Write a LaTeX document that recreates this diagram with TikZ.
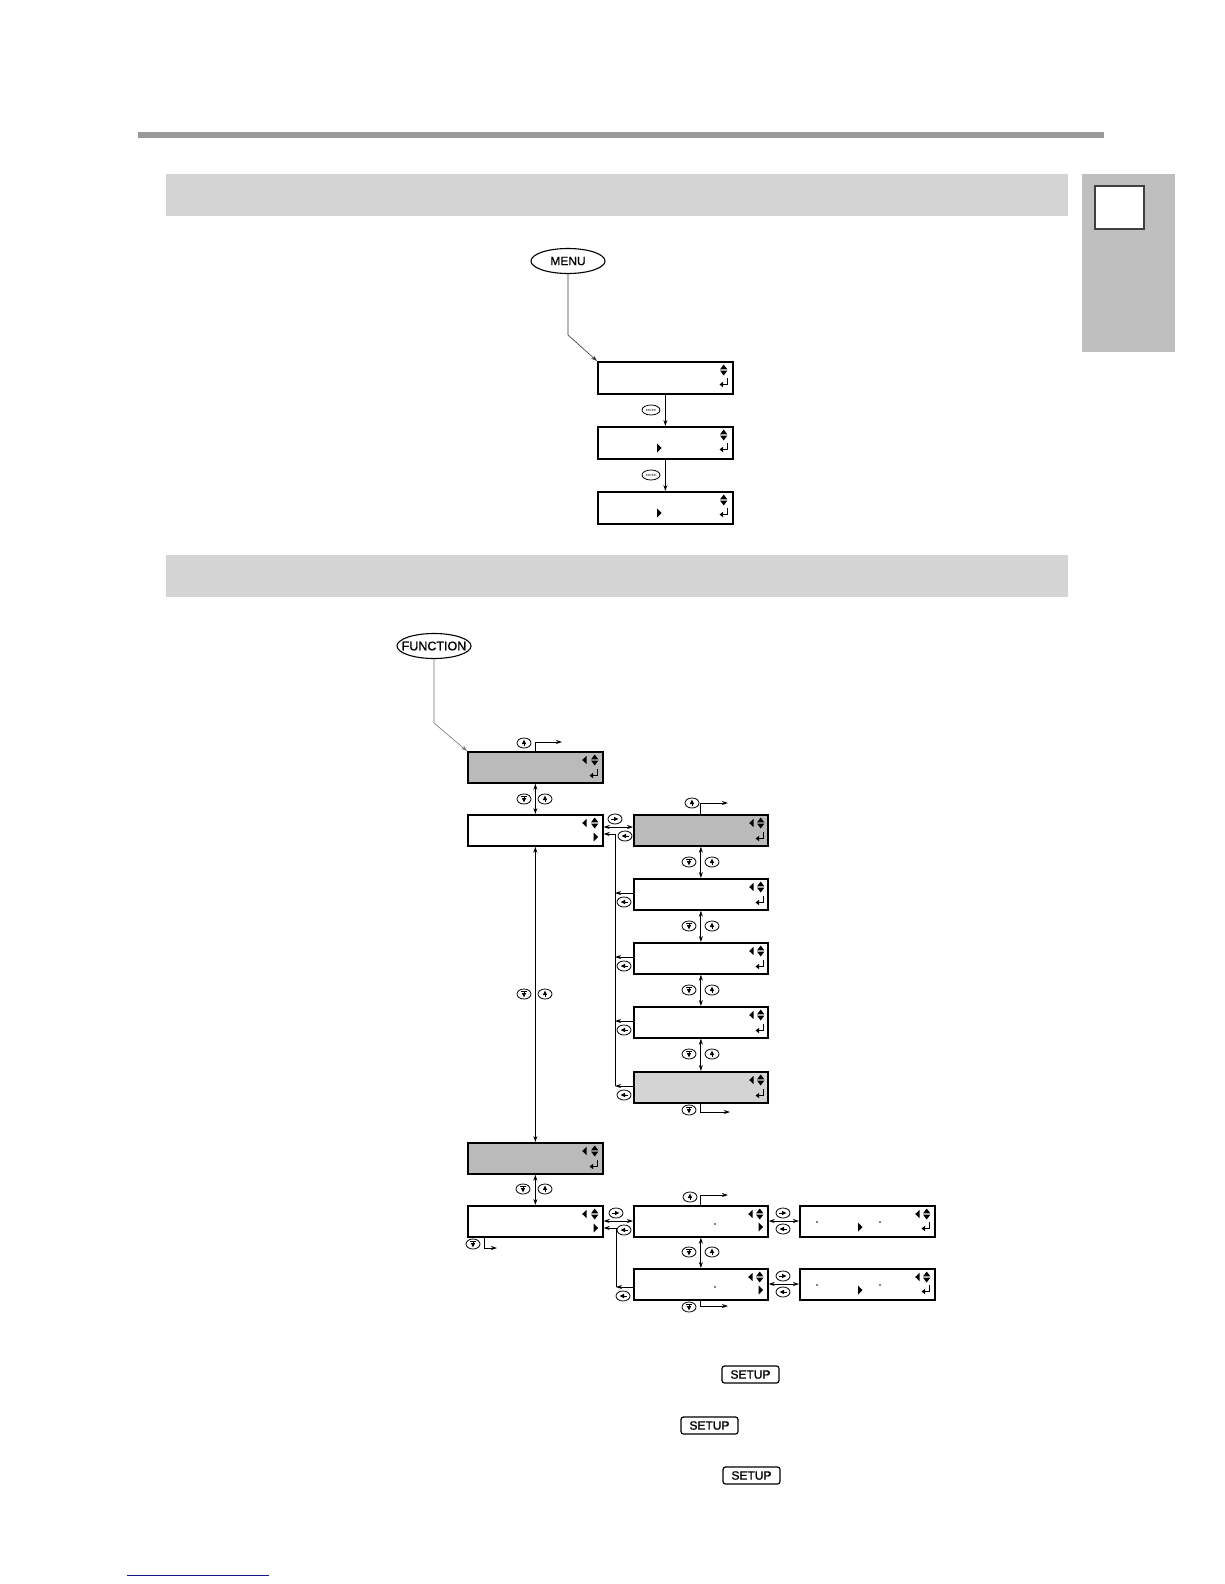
\documentclass[tikz,border=0pt]{standalone}
\usepackage{fontspec}
\setmainfont{Liberation Sans}
\newfontfamily\keyfont[FakeBold=1.1]{Liberation Sans}
\usetikzlibrary{arrows.meta,calc,shapes.geometric}
\definecolor{linkline}{RGB}{20,25,140}
\begin{document}
\begin{tikzpicture}[x=1pt,y=-1pt,
  lcd/.style={draw, line width=1.7pt, minimum width=135pt, minimum height=31pt, inner sep=0pt, anchor=north west, fill=white},
  darkbox/.style={fill=black!27},
  lightbox/.style={fill=black!17},
  tip/.tip={Stealth[length=6pt,width=4pt]},
  arr/.style={line width=0.8pt, -tip},
  darr/.style={line width=0.8pt, tip-tip},
  oval/.style={inner sep=0pt, minimum width=74pt, minimum height=25pt},
  setupbtn/.style={draw, rounded corners=2.5pt, line width=1.2pt, minimum width=57pt, minimum height=17pt, inner sep=0pt, font=\keyfont\fontsize{12}{12}\selectfont},
  enterbtn/.style={draw, ellipse, line width=0.8pt, minimum width=18pt, minimum height=10pt, inner sep=0pt, font=\fontsize{3}{3}\selectfont},
  band/.style={fill=black!17, inner sep=0pt, anchor=north west},
  pics/ud/.style={code={
    \fill (0,-5.5) -- (3.6,-0.7) -- (-3.6,-0.7) -- cycle;
    \fill (0,5.5) -- (3.6,0.7) -- (-3.6,0.7) -- cycle;}},
  pics/ltri/.style={code={\fill (-2.5,0) -- (2,-4.2) -- (2,4.2) -- cycle;}},
  pics/rtri/.style={code={\fill (2.5,0) -- (-2,-4.5) -- (-2,4.5) -- cycle;}},
  pics/ret/.style={code={
    \draw[line width=1pt] (3.5,-5) -- (3.5,1.5) -- (-1,1.5);
    \fill (-4.2,1.5) -- (-0.5,-1.3) -- (-0.5,4.3) -- cycle;}},
  pics/dot/.style={code={\fill (0,0) circle (0.8);}},
  pics/bu/.style={code={
    \draw[line width=0.8pt] (0,0) ellipse (7 and 5);
    \fill (0,-3.3) -- (2.2,1) -- (-2.2,1) -- cycle;
    \draw[line width=0.6pt] (0,1) -- (0,3.3);}},
  pics/bd/.style={code={
    \draw[line width=0.8pt] (0,0) ellipse (7 and 5);
    \fill (0,3.3) -- (2.2,-1) -- (-2.2,-1) -- cycle;
    \draw[line width=0.6pt] (-2.6,-2.6) -- (2.6,-2.6) (0,-2.6) -- (0,-1);}},
  pics/br/.style={code={
    \draw[line width=0.8pt] (0,0) ellipse (7 and 5);
    \fill (3.3,0) -- (-1,-2.2) -- (-1,2.2) -- cycle;
    \draw[line width=0.6pt] (-1,0) -- (-3.8,0);}},
  pics/bl/.style={code={
    \draw[line width=0.8pt] (0,0) ellipse (7 and 5);
    \fill (-3.3,0) -- (1,-2.2) -- (1,2.2) -- cycle;
    \draw[line width=0.6pt] (1,0) -- (3.8,0);}},
]
\useasboundingbox (0,0) rectangle (1224,1584);

% ---------- page furniture ----------
\node[fill=black!40, inner sep=0pt, minimum width=966pt, minimum height=6pt, anchor=north west] (rule) at (138,132) {};
\node[band, minimum width=902pt, minimum height=42pt] (band1) at (166,174) {};
\node[band, minimum width=902pt, minimum height=42pt] (band2) at (166,555) {};
\node[fill=black!25, inner sep=0pt, minimum width=93pt, minimum height=178pt, anchor=north west] (tab) at (1082,174) {};
\node[draw=black!75, fill=white, line width=2.4pt, inner sep=0pt, minimum width=49pt, minimum height=43pt, anchor=north west] (tabbox) at (1094,185) {};
\coordinate (linkA) at (127,1575);
\coordinate (linkB) at (269,1575);
\draw[linkline, line width=1pt] (linkA) -- (linkB);

% ---------- MENU flow ----------
\node[oval, font=\keyfont\fontsize{12}{12}\selectfont] (menu) at (568,261) {MENU};
\draw[line width=1.1pt] (menu.center) ellipse (37 and 12.5);
\node[lcd, minimum height=32pt] (m1) at (597,361) {};
\node[lcd, minimum height=32pt] (m2) at (597,426) {};
\node[lcd, minimum height=32pt] (m3) at (597,491) {};
\coordinate (menubend) at (568,335);
\draw[arr, line width=0.6pt, black!80] (menu.south) -- (menubend) -- (m1.north west);
\draw[arr] (m1.south) -- (m2.north);
\draw[arr] (m2.south) -- (m3.north);
\node[enterbtn] (ent1) at (651,410) {ENTER};
\node[enterbtn] (ent2) at (651,475) {ENTER};
\foreach \b in {m1,m2,m3}{
  \pic at ($(\b.north east)+(-10,9)$) {ud};
  \pic at ($(\b.north east)+(-10,22)$) {ret};
}
\pic at ($(m2.north west)+(62,22)$) {rtri};
\pic at ($(m3.north west)+(62,22)$) {rtri};

% ---------- FUNCTION flow ----------
\node[oval, font=\keyfont\fontsize{12.5}{12.5}\selectfont] (func) at (434,646) {FUNCTION};
\draw[line width=1.1pt] (func.center) ellipse (37 and 12.5);
\node[lcd, darkbox] (f1) at (467,751) {};
\node[lcd] (f2) at (467,814) {};
\node[lcd, darkbox] (f3) at (467,1142) {};
\node[lcd] (f4) at (467,1205) {};
\coordinate (funcbend) at (434,723);
\draw[arr, line width=0.6pt, black!55] (func.south) -- (funcbend) -- (f1.north west);

\foreach \b in {f1,f2,f3,f4}{
  \pic at ($(\b.north east)+(-19,9)$) {ltri};
  \pic at ($(\b.north east)+(-9,9)$) {ud};
}
\pic at ($(f1.north east)+(-10,23)$) {ret};
\pic at ($(f3.north east)+(-10,23)$) {ret};
\pic at ($(f2.north east)+(-8,23)$) {rtri};
\pic at ($(f4.north east)+(-8,23)$) {rtri};

\coordinate (f1exit) at (562,742);
\draw[arr] (f1.north) |- (f1exit);
\pic at (524,743) {bu};

\draw[darr] (f1.south) -- (f2.north);
\pic at (524,799) {bd};
\pic at (545,799) {bu};

\draw[darr] (f2.south) -- (f3.north);
\pic at (524,994) {bd};
\pic at (545,994) {bu};

\draw[darr] (f3.south) -- (f4.north);
\pic at (523,1189) {bd};
\pic at (545,1189) {bu};

\coordinate (f4exit) at (497,1248);
\draw[arr] ($(f4.south west)+(17,0)$) |- (f4exit);
\pic at (473,1244) {bd};

% ---------- right column (upper) ----------
\node[lcd, darkbox, minimum width=134pt] (r1) at (633,814) {};
\node[lcd, minimum width=134pt] (r2) at (633,878) {};
\node[lcd, minimum width=134pt] (r3) at (633,942) {};
\node[lcd, minimum width=134pt] (r4) at (633,1006) {};
\node[lcd, lightbox, minimum width=134pt] (r5) at (633,1071) {};
\foreach \b in {r1,r2,r3,r4,r5}{
  \pic at ($(\b.north east)+(-17,9)$) {ltri};
  \pic at ($(\b.north east)+(-8,9)$) {ud};
  \pic at ($(\b.north east)+(-9,23)$) {ret};
}

\draw[darr] ($(f2.north east)+(0,13)$) -- ($(r1.north west)+(0,13)$);
\pic at (615,819) {br};
\coordinate (railtop) at (615,834);
\draw[arr] (railtop) -- (railtop -| f2.east);
\pic at (625,836) {bl};
\foreach \b in {r2,r3,r4,r5}{
  \coordinate (\b a) at ($(\b.north west)+(0,15)$);
  \draw[arr] (\b a) -- (\b a -| railtop);
  \pic at ($(\b.north west)+(-9,24)$) {bl};
}
\draw[line width=0.8pt] (railtop) -- (r5a -| railtop);

\coordinate (r1exit) at (728,803);
\draw[arr] (r1.north) |- (r1exit);
\pic at (692,803) {bu};
\draw[darr] (r1.south) -- (r2.north);
\pic at (689,862) {bd}; \pic at (712,862) {bu};
\draw[darr] (r2.south) -- (r3.north);
\pic at (689,926) {bd}; \pic at (712,926) {bu};
\draw[darr] (r3.south) -- (r4.north);
\pic at (689,990) {bd}; \pic at (712,990) {bu};
\draw[darr] (r4.south) -- (r5.north);
\pic at (689,1054) {bd}; \pic at (712,1054) {bu};
\coordinate (r5exit) at (730,1112);
\draw[arr] (r5.south) |- (r5exit);
\pic at (689,1110) {bd};

% ---------- lower branch ----------
\node[lcd, minimum width=134pt] (b1) at (633,1205) {};
\node[lcd] (b2) at (799,1205) {};
\node[lcd, minimum width=134pt] (b3) at (633,1268) {};
\node[lcd] (b4) at (799,1268) {};
\foreach \b in {b1,b2,b3,b4}{
  \pic at ($(\b.north east)+(-18,9)$) {ltri};
  \pic at ($(\b.north east)+(-9,9)$) {ud};
}
\foreach \b in {b1,b3}{
  \pic at ($(\b.north west)+(82,19)$) {dot};
  \pic at ($(\b.north east)+(-8,22)$) {rtri};
}
\foreach \b in {b2,b4}{
  \pic at ($(\b.north west)+(18,17)$) {dot};
  \pic at ($(\b.north west)+(81,17)$) {dot};
  \pic at ($(\b.north west)+(61,22)$) {rtri};
  \pic at ($(\b.north east)+(-10,22)$) {ret};
}

\draw[darr] ($(f4.north east)+(0,16)$) -- ($(b1.north west)+(0,16)$);
\pic at (616,1213) {br};
\coordinate (rail2top) at (616,1228);
\draw[arr] (rail2top) -- (rail2top -| f4.east);
\pic at (624,1230) {bl};
\coordinate (b3a) at ($(b3.north west)+(0,19)$);
\draw[arr] (b3a) -- (b3a -| rail2top);
\draw[line width=0.8pt] (rail2top) -- (b3a -| rail2top);
\pic at (623,1296) {bl};

\draw[darr] ($(b1.north east)+(0,16)$) -- ($(b2.north west)+(0,16)$);
\pic at (783,1213) {br}; \pic at (783,1229) {bl};
\draw[darr] ($(b3.north east)+(0,16)$) -- ($(b4.north west)+(0,16)$);
\pic at (783,1276) {br}; \pic at (783,1292) {bl};

\coordinate (b1exit) at (728,1195);
\draw[arr] (b1.north) |- (b1exit);
\pic at (690,1197) {bu};
\draw[darr] (b1.south) -- (b3.north);
\pic at (689,1252) {bd}; \pic at (712,1252) {bu};
\coordinate (b3exit) at (728,1306);
\draw[arr] (b3.south) |- (b3exit);
\pic at (689,1307) {bd};

% ---------- SETUP keys ----------
\node[setupbtn] (setup1) at (750.5,1374.5) {SETUP};
\node[setupbtn] (setup2) at (709.5,1425.5) {SETUP};
\node[setupbtn] (setup3) at (751.5,1475.5) {SETUP};
\end{tikzpicture}
\end{document}
